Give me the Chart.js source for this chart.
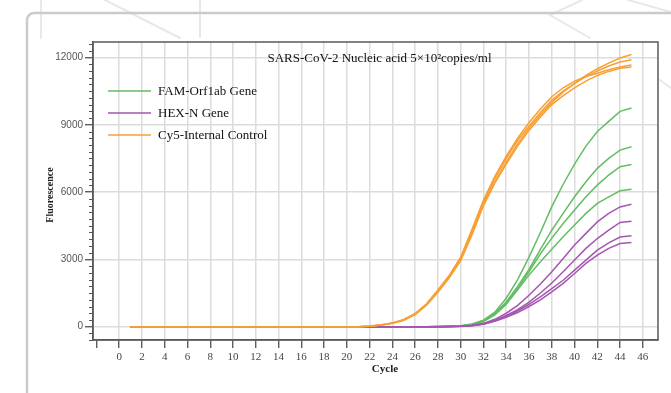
<!DOCTYPE html>
<html><head><meta charset="utf-8">
<script src="https://cdn.jsdelivr.net/npm/chart.js@4/dist/chart.umd.min.js"></script>
<style>html,body{margin:0;padding:0;background:#fff;}#wrap{width:671px;height:393px;position:relative}</style>
</head><body><div id="wrap"><canvas id="c" width="671" height="393"></canvas></div>
<script>
// ---- data ----
const cycles = [1,2,3,4,5,6,7,8,9,10,11,12,13,14,15,16,17,18,19,20,21,22,23,24,25,26,27,28,29,30,31,32,33,34,35,36,37,38,39,40,41,42,43,44,45];
const xTickValues = [-2,0,2,4,6,8,10,12,14,16,18,20,22,24,26,28,30,32,34,36,38,40,42,44,46];
const yTickValues = [0,3000,6000,9000,12000];
const seriesNames = ['FAM-Orf1ab Gene','HEX-N Gene','Cy5-Internal Control'];
const titleText = 'SARS-CoV-2 Nucleic acid 5×10²copies/ml';

const fam1 = [0,0,0,0,0,0,0,0,0,0,0,0,0,0,0,0,0,0,0,0,0,0,0,0,0,0,0,5,15,45,120,290,650,1270,2100,3100,4200,5350,6350,7250,8050,8700,9150,9600,9750];
const fam2 = [0,0,0,0,0,0,0,0,0,0,0,0,0,0,0,0,0,0,0,0,0,0,0,0,0,0,0,5,12,35,110,280,600,1100,1800,2550,3450,4300,5050,5790,6460,7060,7500,7870,8020];
const fam3 = [0,0,0,0,0,0,0,0,0,0,0,0,0,0,0,0,0,0,0,0,0,0,0,0,0,0,0,5,10,30,100,250,560,1050,1700,2450,3250,3950,4600,5200,5790,6310,6760,7130,7230];
const fam4 = [0,0,0,0,0,0,0,0,0,0,0,0,0,0,0,0,0,0,0,0,0,0,0,0,0,0,0,5,10,25,90,230,530,1000,1650,2300,2900,3450,4010,4530,5050,5500,5790,6060,6130];

const hex1 = [0,0,0,0,0,0,0,0,0,0,0,0,0,0,0,0,0,0,0,0,0,0,0,0,0,0,0,0,5,20,60,150,330,600,950,1400,1900,2450,3040,3640,4160,4670,5050,5340,5460];
const hex2 = [0,0,0,0,0,0,0,0,0,0,0,0,0,0,0,0,0,0,0,0,0,0,0,0,0,0,0,0,5,15,50,130,280,500,760,1100,1500,1950,2450,2970,3490,3930,4300,4650,4700];
const hex3 = [0,0,0,0,0,0,0,0,0,0,0,0,0,0,0,0,0,0,0,0,0,0,0,0,0,0,0,0,5,15,45,120,260,460,700,1000,1330,1700,2070,2520,2970,3410,3740,4000,4050];
const hex4 = [0,0,0,0,0,0,0,0,0,0,0,0,0,0,0,0,0,0,0,0,0,0,0,0,0,0,0,0,5,10,40,110,240,420,630,900,1200,1550,1930,2370,2820,3190,3490,3710,3750];

const cy5_1 = [0,0,0,0,0,0,0,0,0,0,0,0,0,0,0,0,0,0,0,0,0,30,80,160,310,570,1000,1600,2250,3050,4250,5450,6450,7350,8150,8850,9450,10000,10450,10850,11200,11500,11750,11980,12130];
const cy5_2 = [0,0,0,0,0,0,0,0,0,0,0,0,0,0,0,0,0,0,0,0,0,25,75,155,300,560,990,1580,2230,3020,4200,5550,6600,7500,8300,8950,9550,10100,10500,10850,11150,11400,11620,11800,11900];
const cy5_3 = [0,0,0,0,0,0,0,0,0,0,0,0,0,0,0,0,0,0,0,0,0,30,85,165,320,590,1020,1640,2300,3100,4350,5650,6700,7600,8400,9100,9700,10250,10650,10950,11150,11300,11450,11580,11670];
const cy5_4 = [0,0,0,0,0,0,0,0,0,0,0,0,0,0,0,0,0,0,0,0,0,25,70,150,290,540,960,1540,2180,2950,4100,5400,6400,7250,8050,8750,9350,9900,10300,10650,10950,11200,11380,11520,11580];

// ---- styling ----
const GREEN = '#63bd63', PURPLE = '#a456b0', ORANGE = '#f7a035';
const SERIF = "'Liberation Serif','Times New Roman',serif";
const SANS = "'Liberation Sans',Arial,sans-serif";

function ds(data, color, order, group) {
  return { label: group, data, borderColor: color, backgroundColor: color, borderWidth: 1.5,
           pointRadius: 0, tension: 0, fill: false, order };
}
const datasets = [
  ...[cy5_1, cy5_2, cy5_3, cy5_4].map(d => ds(d, ORANGE, 0, seriesNames[2])),
  ...[hex1, hex2, hex3, hex4].map(d => ds(d, PURPLE, 1, seriesNames[1])),
  ...[fam1, fam2, fam3, fam4].map(d => ds(d, GREEN, 2, seriesNames[0]))
];

const deco = {
  id: 'deco',
  beforeDraw(chart) {
    const ctx = chart.ctx;
    ctx.save();
    ctx.fillStyle = '#fff';
    ctx.fillRect(0, 0, chart.width, chart.height);
    ctx.lineCap = 'round';
    ctx.strokeStyle = '#e8e8e8';
    ctx.lineWidth = 2;
    const seg = (pts) => { ctx.beginPath(); ctx.moveTo(pts[0][0], pts[0][1]); for (let i = 1; i < pts.length; i++) ctx.lineTo(pts[i][0], pts[i][1]); ctx.stroke(); };
    seg([[41, 0], [41, 38]]);
    seg([[200, 0], [200, 37]]);
    seg([[105, 0], [180, 38]]);
    seg([[582, 0], [550, 15], [590, 38]]);
    seg([[628, 0], [671, 12]]);
    seg([[660, 80], [671, 88]]);
    // frame
    ctx.strokeStyle = '#cbcbcb';
    ctx.lineWidth = 2.5;
    ctx.beginPath();
    ctx.moveTo(27, 393);
    ctx.lineTo(27, 20);
    ctx.arcTo(27, 13, 34, 13, 7);
    ctx.lineTo(671, 13);
    ctx.stroke();
    ctx.restore();
  },
  afterDraw(chart) {
    const { ctx, chartArea: a, scales } = chart;
    const y = scales.y;
    ctx.save();
    // plot frame
    ctx.strokeStyle = '#5a5a5a';
    ctx.lineWidth = 1.5;
    ctx.strokeRect(a.left, a.top, a.right - a.left, a.bottom - a.top);
    // minor y ticks
    ctx.strokeStyle = '#555';
    ctx.lineWidth = 1;
    for (let v = -600; v <= 12600; v += 300) {
      if (v % 3000 === 0) continue;
      const py = Math.round(y.getPixelForValue(v)) + 0.5;
      if (py < a.top - 1 || py > a.bottom + 1) continue;
      ctx.beginPath(); ctx.moveTo(a.left - 4, py); ctx.lineTo(a.left, py); ctx.stroke();
    }
    // title
    ctx.fillStyle = '#111';
    ctx.font = '13px ' + SERIF;
    ctx.textAlign = 'center';
    ctx.textBaseline = 'middle';
    ctx.fillText(titleText, 379.5, 59);
    // legend
    const legendColors = [GREEN, PURPLE, ORANGE];
    const legendY = [91, 113, 135];
    ctx.textAlign = 'left';
    for (let i = 0; i < 3; i++) {
      ctx.strokeStyle = legendColors[i];
      ctx.lineWidth = 1.6;
      ctx.beginPath(); ctx.moveTo(108, legendY[i]); ctx.lineTo(151, legendY[i]); ctx.stroke();
      ctx.fillStyle = '#111';
      ctx.font = '13px ' + SERIF;
      ctx.fillText(seriesNames[i], 158, legendY[i] + 0.5);
    }
    // axis titles
    ctx.fillStyle = '#222';
    ctx.font = 'bold 11px ' + SERIF;
    ctx.textAlign = 'center';
    ctx.fillText('Cycle', 385, 369);
    ctx.save();
    ctx.translate(50, 195);
    ctx.rotate(-Math.PI / 2);
    ctx.font = 'bold 10px ' + SERIF;
    ctx.fillText('Fluorescence', 0, 0);
    ctx.restore();
    ctx.restore();
  }
};

new Chart(document.getElementById('c'), {
  type: 'line',
  data: { labels: cycles, datasets },
  options: {
    responsive: false,
    animation: false,
    devicePixelRatio: 1,
    layout: { padding: { left: 33, right: 13, top: 42, bottom: 13 } },
    plugins: { legend: { display: false }, title: { display: false }, tooltip: { enabled: false } },
    scales: {
      x: {
        type: 'linear', min: -2.3, max: 47.33,
        afterFit: s => { s.height = 40; },
        afterBuildTicks: s => { s.ticks = xTickValues.map(v => ({ value: v })); },
        ticks: { autoSkip: false, maxRotation: 0, padding: 3, color: '#444',
                 font: { family: SERIF, size: 11 },
                 callback: v => (v < 0 ? '' : String(v)) },
        grid: { color: ctx => (ctx.tick && ctx.tick.value < 0 ? 'rgba(0,0,0,0)' : '#dcdcdc'),
                lineWidth: 1.5, tickLength: 8, tickColor: '#444', tickWidth: 1.2 },
        border: { color: '#5a5a5a', width: 1.5 }
      },
      y: {
        type: 'linear', min: -593, max: 12691,
        afterFit: s => { s.width = 60; },
        afterBuildTicks: s => { s.ticks = yTickValues.map(v => ({ value: v })); },
        ticks: { padding: 2, color: '#555', font: { family: SANS, size: 10 },
                 callback: v => String(v) },
        grid: { color: '#dcdcdc', lineWidth: 1.5, tickLength: 8, tickColor: '#444', tickWidth: 1.2 },
        border: { color: '#5a5a5a', width: 1.5 }
      }
    }
  },
  plugins: [deco]
});
</script>
</body></html>
